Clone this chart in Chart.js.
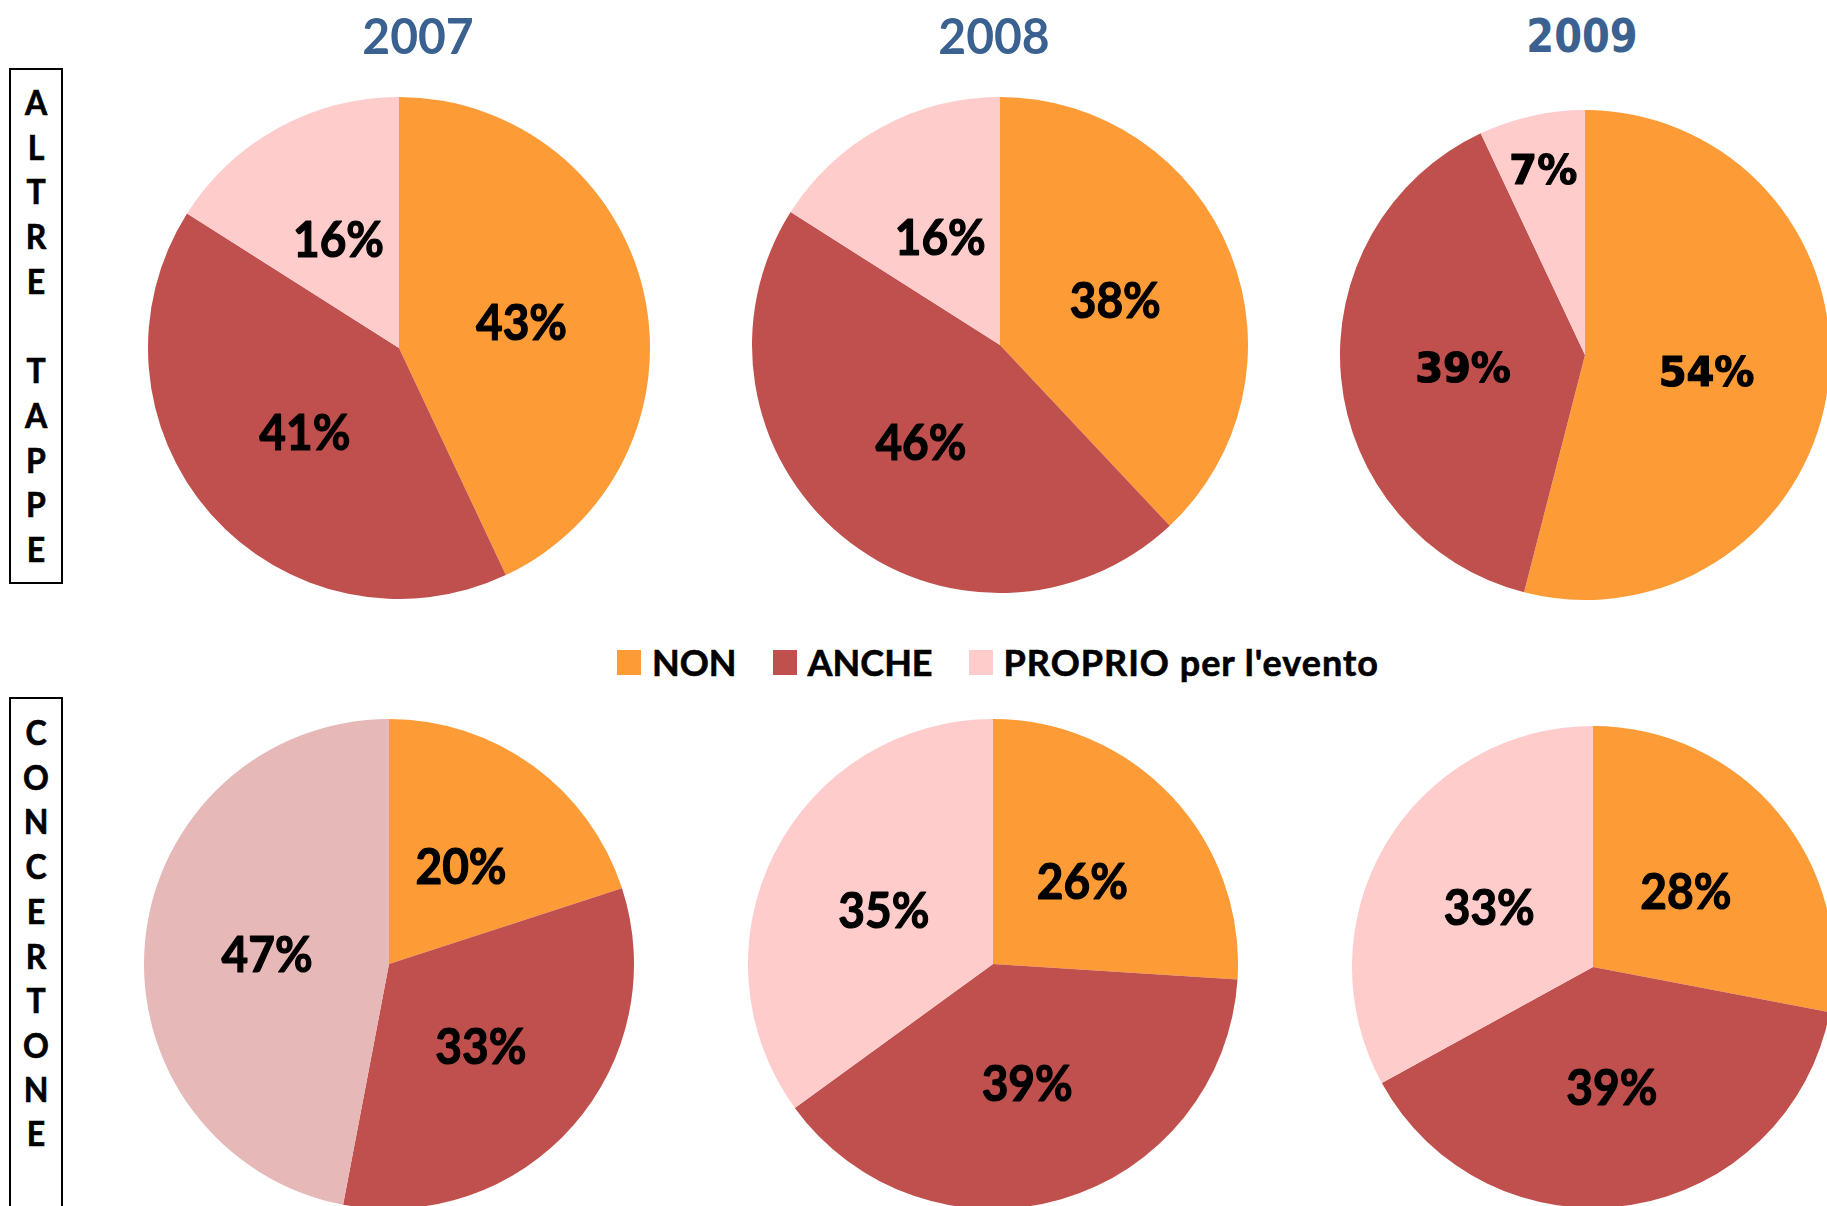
<!DOCTYPE html>
<html>
<head>
<meta charset="utf-8">
<script src="https://cdn.jsdelivr.net/npm/chart.js@4.4.1/dist/chart.umd.min.js"></script>
<style>
  html, body { margin: 0; padding: 0; background: #fff; }
  body { width: 1827px; height: 1206px; position: relative; overflow: hidden; font-family: Lato, "Open Sans", sans-serif; }
  .pie { position: absolute; }
  .title { position: absolute; font-weight: bold; color: #3A6190; white-space: nowrap; }
  .side { position: absolute; border: 2px solid #000; box-sizing: border-box; }
  .side span { position: absolute; left: 0; width: 100%; text-align: center; font-weight: bold; font-size: 32px; -webkit-text-stroke: 0.6px #000; transform: translateY(-50%) scaleY(1.08); }
  #legend { position: absolute; left: 617px; top: 662px; transform: translateY(-50%); display: flex; align-items: center; gap: 36px; font-weight: bold; font-size: 36px; -webkit-text-stroke: 0.6px #000; white-space: nowrap; }
  #legend .item { display: flex; align-items: center; }
  #legend .box { width: 24px; height: 25px; margin-right: 11px; }
</style>
</head>
<body>
<div id="legend"></div>
<script>
// categories and values (percent)
const categories = ['NON', 'ANCHE', "PROPRIO per l'evento"];
const years = ['2007', '2008', '2009'];
const altreTappe2007 = [43, 41, 16];
const altreTappe2008 = [38, 46, 16];
const altreTappe2009 = [54, 39, 7];
const concertone2007 = [20, 33, 47];
const concertone2008 = [26, 39, 35];
const concertone2009 = [28, 39, 33];
const rowLabels = ['ALTRE TAPPE', 'CONCERTONE'];

const colors = ['#FD9B37', '#C0504D', '#FFCCCC'];
const colorsOld = ['#FD9B37', '#C0504D', '#E6B8B7'];

// pie placement on the page
const panels = [
  { data: altreTappe2007, cx: 399, cy: 348, r: 251, font: 'Lato', size: 50, sx: 0.92, dy: 3, colors: colors },
  { data: altreTappe2008, cx: 1000, cy: 345, r: 248, font: 'Lato', size: 50, sx: 0.92, dy: 3, colors: colors },
  { data: altreTappe2009, cx: 1585, cy: 355, r: 245, font: '"DejaVu Sans"', size: 40, sx: 1, dy: 5, colors: colors },
  { data: concertone2007, cx: 389, cy: 964, r: 245, font: 'Lato', size: 50, sx: 0.92, dy: 3, colors: colorsOld },
  { data: concertone2008, cx: 993, cy: 964, r: 245, font: 'Lato', size: 50, sx: 0.92, dy: 3, colors: colors },
  { data: concertone2009, cx: 1593, cy: 967, r: 241, font: 'Lato', size: 50, sx: 0.92, dy: 3, colors: colors }
];

const titles = [
  { text: years[0], x: 418, y: 35, font: 'Lato', size: 48, sy: 1.05 },
  { text: years[1], x: 994, y: 35, font: 'Lato', size: 48, sy: 1.05 },
  { text: years[2], x: 1582, y: 36, font: '"DejaVu Sans"', size: 40, sy: 1.15 }
];

titles.forEach(t => {
  const d = document.createElement('div');
  d.className = 'title';
  d.textContent = t.text;
  d.style.left = t.x + 'px';
  d.style.top = t.y + 'px';
  d.style.fontFamily = t.font;
  d.style.fontSize = t.size + 'px';
  d.style.transform = 'translate(-50%, -50%) scaleY(' + t.sy + ')';
  document.body.appendChild(d);
});

// vertical row labels in boxes
const sides = [
  { text: rowLabels[0], left: 9, top: 68, width: 54, height: 516, first: 101 },
  { text: rowLabels[1], left: 9, top: 697, width: 54, height: 530, first: 731 }
];
sides.forEach(s => {
  const box = document.createElement('div');
  box.className = 'side';
  Object.assign(box.style, { left: s.left + 'px', top: s.top + 'px', width: s.width + 'px', height: s.height + 'px' });
  s.text.split('').forEach((ch, i) => {
    const sp = document.createElement('span');
    sp.textContent = ch;
    sp.style.top = (s.first + i * 44.7 - s.top - 2) + 'px';
    box.appendChild(sp);
  });
  document.body.appendChild(box);
});

// legend
const legend = document.getElementById('legend');
categories.forEach((c, i) => {
  const it = document.createElement('div');
  it.className = 'item';
  it.innerHTML = '<div class="box" style="background:' + colors[i] + '"></div><span>' + c + '</span>';
  if (i === 2) it.querySelector('span').style.letterSpacing = '1px';
  legend.appendChild(it);
});

// percent labels in the slices
const sliceLabels = {
  id: 'sliceLabels',
  afterDatasetsDraw(chart, args, opts) {
    const ctx = chart.ctx;
    const ds = chart.data.datasets[0];
    chart.getDatasetMeta(0).data.forEach((arc, i) => {
      const p = arc.getProps(['x', 'y', 'startAngle', 'endAngle', 'outerRadius'], true);
      const mid = (p.startAngle + p.endAngle) / 2;
      const f = ds.data[i] < 10 ? 0.78 : 0.5;
      const x = p.x + Math.cos(mid) * p.outerRadius * f;
      const y = p.y + Math.sin(mid) * p.outerRadius * f + opts.dy;
      ctx.save();
      ctx.translate(x, y);
      ctx.scale(opts.sx, 1);
      ctx.font = 'bold ' + opts.size + 'px ' + opts.font;
      ctx.fillStyle = '#000';
      ctx.strokeStyle = '#000';
      ctx.lineWidth = 1.2;
      ctx.lineJoin = 'round';
      ctx.textAlign = 'center';
      ctx.textBaseline = 'middle';
      ctx.fillText(ds.data[i] + '%', 0, 0);
      ctx.strokeText(ds.data[i] + '%', 0, 0);
      ctx.restore();
    });
  }
};

panels.forEach(p => {
  const wrap = document.createElement('div');
  wrap.className = 'pie';
  Object.assign(wrap.style, { left: (p.cx - p.r) + 'px', top: (p.cy - p.r) + 'px', width: 2 * p.r + 'px', height: 2 * p.r + 'px' });
  const cv = document.createElement('canvas');
  wrap.appendChild(cv);
  document.body.appendChild(wrap);
  new Chart(cv.getContext('2d'), {
    type: 'pie',
    data: {
      labels: categories,
      datasets: [{
        data: p.data,
        backgroundColor: p.colors,
        borderWidth: 0
      }]
    },
    options: {
      responsive: true,
      maintainAspectRatio: false,
      animation: false,
      layout: { padding: 0 },
      plugins: {
        legend: { display: false },
        tooltip: { enabled: false },
        sliceLabels: { font: p.font, size: p.size, sx: p.sx, dy: p.dy }
      }
    },
    plugins: [sliceLabels]
  });
});
</script>
</body>
</html>
